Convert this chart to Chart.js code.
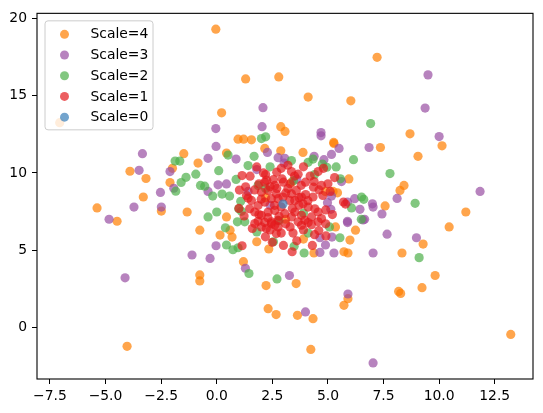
<!DOCTYPE html>
<html>
<head>
<meta charset="utf-8">
<script src="https://cdn.jsdelivr.net/npm/chart.js@4"></script>
<style>
  body { margin: 0; background: #fff; }
  #chart { display: block; }
</style>
</head>
<body>
<canvas id="chart" width="543" height="413"></canvas>
<script>
// series labels, drawn top of legend first
const seriesLabels = ['Scale=4', 'Scale=3', 'Scale=2', 'Scale=1', 'Scale=0'];

// points as [x, y]
const scale4Points = [
    [-7.06, 13.26], [-0.04, 19.32], [1.30, 16.1], [2.79, 16.23], [7.21, 17.5], [4.11, 14.92],
    [6.03, 14.68], [0.22, 13.9], [2.88, 13.0], [3.07, 12.69], [0.96, 12.19], [1.21, 12.19],
    [1.56, 12.15], [5.26, 11.98], [8.69, 12.54], [-1.48, 11.25], [-0.84, 10.64], [-3.90, 10.11],
    [-3.18, 9.64], [-1.99, 10.30], [-2.10, 9.38], [-3.30, 8.44], [-5.38, 7.73], [-2.49, 7.53],
    [-1.33, 7.47], [-4.48, 6.87], [2.16, 11.59], [2.88, 11.44], [0.44, 11.29], [3.88, 11.33],
    [5.27, 11.91], [3.36, 9.40], [5.94, 9.61], [4.89, 8.8], [5.23, 8.8], [5.43, 8.71],
    [0.44, 7.15], [7.36, 11.65], [10.13, 11.76], [9.05, 11.08], [8.42, 9.19], [8.24, 8.87],
    [7.57, 7.86], [11.2, 7.47], [10.45, 6.5], [-0.76, 6.29], [-0.76, 3.39], [-0.76, 3.0],
    [0.15, 5.97], [0.6, 6.29], [0.69, 5.84], [1.8, 5.54], [2.34, 5.07], [1.2, 4.25],
    [2.22, 2.7], [3.57, 2.83], [3.9, 5.71], [4.37, 4.81], [5.34, 6.5], [5.99, 5.65],
    [6.24, 6.29], [5.72, 4.89], [5.9, 4.81], [5.9, 1.85], [5.72, 1.42], [2.31, 1.2],
    [2.67, 0.82], [3.63, 0.77], [4.33, 0.55], [9.28, 5.39], [8.33, 4.81], [9.82, 3.35],
    [9.23, 2.56], [8.18, 2.32], [8.27, 2.19], [-4.03, -1.24], [4.23, -1.44], [13.22, -0.47],
    [2.2, 8.4], [3.1, 7.0]
];
const scale3Points = [
    [2.08, 14.23], [-0.04, 12.88], [2.04, 13.0], [4.69, 12.62], [4.69, 12.41], [9.50, 16.36],
    [9.37, 14.21], [10.0, 12.36], [-3.34, 11.25], [-3.49, 10.17], [-2.10, 10.09], [-1.93, 9.01],
    [-2.53, 8.74], [-3.72, 7.79], [-2.49, 7.79], [-4.84, 7.0], [-0.03, 11.72], [2.28, 11.33],
    [5.50, 11.59], [-0.39, 10.95], [0.87, 10.9], [2.76, 10.99], [3.06, 10.95], [3.03, 10.64],
    [4.38, 11.08], [4.82, 10.86], [5.16, 11.2], [1.80, 10.22], [5.61, 9.44], [0.06, 9.23],
    [0.44, 9.29], [-0.39, 8.8], [1.41, 8.8], [5.16, 8.5], [6.2, 8.33], [5.88, 8.11],
    [6.44, 7.64], [6.65, 7.0], [5.88, 6.87], [5.13, 7.64], [4.98, 8.07], [6.85, 11.65],
    [11.84, 8.8], [7.0, 8.0], [7.03, 7.79], [8.11, 8.35], [7.43, 7.34], [6.58, 6.95],
    [-1.11, 4.68], [-4.12, 3.2], [-0.03, 5.28], [-0.3, 4.46], [1.29, 3.82], [3.27, 3.35],
    [4.64, 5.8], [4.89, 5.33], [4.64, 4.85], [5.27, 4.81], [5.18, 5.84], [5.88, 6.78],
    [5.9, 2.15], [3.99, 0.99], [7.66, 6.03], [8.98, 5.8], [7.03, 4.81], [7.03, -2.32],
    [3.6, 9.6], [2.4, 7.9]
];
const scale2Points = [
    [6.92, 13.2], [2.01, 12.23], [2.20, 12.34], [-1.87, 10.77], [-1.66, 10.77], [-1.38, 9.72],
    [-0.94, 9.92], [-1.60, 9.38], [-1.84, 8.82], [-0.73, 9.19], [0.51, 11.16], [1.68, 11.08],
    [4.33, 10.9], [4.75, 10.58], [6.15, 10.86], [4.11, 10.69], [3.36, 10.8], [1.41, 10.48],
    [0.09, 10.15], [0.87, 9.58], [5.37, 10.39], [4.95, 10.37], [5.56, 9.62], [-0.54, 9.14],
    [-0.18, 8.5], [0.24, 8.63], [0.58, 8.5], [1.86, 9.19], [6.06, 7.73], [6.5, 7.0],
    [0.0, 7.47], [-0.39, 7.15], [1.08, 8.16], [0.99, 7.68], [1.11, 7.51], [0.93, 6.83],
    [1.26, 6.83], [7.79, 9.96], [6.51, 8.44], [6.61, 8.29], [8.92, 8.03], [0.39, 6.44],
    [1.8, 6.18], [2.55, 5.54], [0.44, 5.33], [0.73, 5.02], [0.96, 5.15], [1.45, 3.48],
    [2.71, 3.13], [3.48, 5.24], [3.93, 4.81], [4.11, 6.1], [5.54, 5.8], [5.07, 6.5],
    [9.1, 4.51], [2.4, 10.4], [3.45, 9.5], [2.2, 9.0], [3.9, 7.4], [2.8, 6.9], [4.4, 9.9]
];
const scale1Points = [
    [1.80, 10.39], [1.14, 9.83], [1.50, 9.79], [2.70, 10.05], [3.36, 10.09], [3.66, 9.92],
    [4.56, 10.09], [3.99, 9.40], [2.25, 9.53], [2.55, 9.57], [2.94, 9.61], [2.16, 9.40],
    [2.61, 9.19], [4.38, 9.44], [4.35, 9.08], [4.71, 9.19], [4.77, 8.54], [4.33, 8.44],
    [1.02, 8.89], [1.34, 8.54], [1.41, 8.37], [1.23, 7.21], [5.7, 8.11], [5.79, 7.98],
    [2.01, 8.76], [2.31, 8.87], [2.68, 8.65], [3.36, 8.65], [3.58, 8.87], [3.81, 8.44],
    [3.51, 8.22], [3.88, 8.0], [4.11, 7.79], [4.41, 7.68], [4.56, 7.47], [4.26, 7.15],
    [3.81, 7.25], [3.51, 7.47], [2.46, 8.33], [2.16, 8.11], [1.86, 7.89], [1.71, 7.47],
    [2.01, 7.25], [2.31, 7.47], [2.61, 7.57], [3.06, 7.36], [3.36, 7.15], [3.66, 6.83],
    [3.96, 6.93], [4.56, 6.83], [4.71, 7.04], [2.46, 6.83], [2.16, 6.79], [2.61, 6.62],
    [1.86, 6.87], [2.76, 6.93], [1.48, 7.68], [1.56, 8.22], [3.28, 8.22], [2.76, 8.33],
    [2.98, 8.44], [2.19, 5.86], [1.14, 5.28], [3.39, 4.89], [3.43, 6.1], [2.46, 6.72],
    [2.76, 6.5], [2.68, 6.07], [1.71, 6.72], [2.23, 6.4], [4.59, 6.27], [4.91, 5.92],
    [3.81, 6.61], [4.26, 6.65], [2.01, 6.5], [4.11, 6.78], [3.2, 9.0], [2.9, 7.8],
    [3.7, 7.9], [2.4, 9.1], [4.0, 8.6], [3.1, 6.7], [1.9, 9.3], [4.9, 7.6],
    [2.2, 9.9], [2.9, 10.3], [3.9, 10.4], [4.2, 9.8], [3.3, 9.3], [2.7, 9.0],
    [2.0, 8.3], [1.7, 8.9], [3.0, 9.4], [3.8, 9.2], [4.6, 8.9], [4.1, 8.2],
    [3.4, 7.7], [3.7, 8.4], [2.6, 7.9], [2.3, 7.1], [1.9, 7.3], [2.8, 7.2],
    [3.3, 6.5], [3.9, 6.3], [4.4, 6.0], [2.9, 6.1], [2.5, 5.5], [3.6, 5.6],
    [4.9, 6.7], [5.2, 7.3], [5.1, 8.8], [5.3, 9.7], [1.3, 9.1], [1.6, 6.4],
    [3.1, 8.7], [3.5, 9.8], [2.1, 10.0], [4.8, 10.3], [3.0, 5.3], [4.3, 5.3],
    [1.0, 7.7], [5.0, 9.3], [3.2, 10.5], [2.4, 6.3]
];
const scale0Points = [[2.98, 7.98]];

const seriesColors = [
    'rgba(255, 127, 0, 0.7)',
    'rgba(152, 78, 163, 0.7)',
    'rgba(77, 175, 74, 0.7)',
    'rgba(228, 26, 28, 0.7)',
    'rgba(55, 126, 184, 0.7)'
];
const seriesPoints = [scale4Points, scale3Points, scale2Points, scale1Points, scale0Points];

// axis ticks
const xTicks = [-7.5, -5, -2.5, 0, 2.5, 5, 7.5, 10, 12.5];
const yTicks = [0, 5, 10, 15, 20];
const xRange = [-8.08, 14.22];
const yRange = [-3.36, 20.35];

const tickFont = { family: 'DejaVu Sans', size: 13.9 };
const minus = s => s.replace('-', '\u2212');

// frame and legend like matplotlib
const framePlugin = {
    id: 'frame',
    afterDraw(chart) {
        const { ctx, chartArea: a } = chart;
        ctx.save();
        ctx.strokeStyle = '#000';
        ctx.lineWidth = 1.1;
        ctx.strokeRect(a.left, a.top, a.right - a.left, a.bottom - a.top);

        // legend box
        const bx = a.left + 8, by = a.top + 7.5, bw = 108, bh = 109;
        ctx.beginPath();
        ctx.roundRect(bx, by, bw, bh, 3);
        ctx.fillStyle = 'rgba(255,255,255,0.8)';
        ctx.fill();
        ctx.strokeStyle = '#cccccc';
        ctx.lineWidth = 1;
        ctx.stroke();

        ctx.font = '13.9px "DejaVu Sans"';
        ctx.textBaseline = 'middle';
        seriesLabels.forEach((label, i) => {
            const y = by + 13.5 + i * 20.7;
            ctx.beginPath();
            ctx.arc(bx + 19.5, y, 4.5, 0, Math.PI * 2);
            ctx.fillStyle = seriesColors[i];
            ctx.fill();
            ctx.fillStyle = '#000';
            ctx.fillText(label, bx + 45.5, y + 0.5);
        });
        ctx.restore();
    }
};

const ctx = document.getElementById('chart').getContext('2d');
const chart = new Chart(ctx, {
    type: 'scatter',
    data: {
        datasets: seriesLabels.map((label, i) => ({
            label: label,
            data: seriesPoints[i].map(p => ({ x: p[0], y: p[1] })),
            backgroundColor: seriesColors[i],
            borderWidth: 0,
            pointRadius: 4.6,
            order: seriesLabels.length - 1 - i
        }))
    },
    options: {
        responsive: false,
        animation: false,
        devicePixelRatio: 1,
        layout: { padding: { top: 10, right: 10, left: 0, bottom: 0 } },
        plugins: { legend: { display: false }, tooltip: { enabled: false } },
        scales: {
            x: {
                type: 'linear',
                min: xRange[0],
                max: xRange[1],
                afterBuildTicks: axis => { axis.ticks = xTicks.map(v => ({ value: v })); },
                afterFit: axis => { axis.height = 34; },
                grid: { drawOnChartArea: false, drawTicks: true, tickLength: 5, color: '#000', lineWidth: 1 },
                border: { display: false },
                ticks: {
                    font: tickFont,
                    color: '#000',
                    padding: 4,
                    maxRotation: 0,
                    autoSkip: false,
                    callback: v => minus(v.toFixed(1))
                }
            },
            y: {
                type: 'linear',
                min: yRange[0],
                max: yRange[1],
                afterBuildTicks: axis => { axis.ticks = yTicks.map(v => ({ value: v })); },
                afterFit: axis => { axis.width = 37; },
                grid: { drawOnChartArea: false, drawTicks: true, tickLength: 5, color: '#000', lineWidth: 1 },
                border: { display: false },
                ticks: {
                    font: tickFont,
                    color: '#000',
                    padding: 5,
                    autoSkip: false,
                    callback: v => minus(String(v))
                }
            }
        }
    },
    plugins: [framePlugin]
});
</script>
</body>
</html>
